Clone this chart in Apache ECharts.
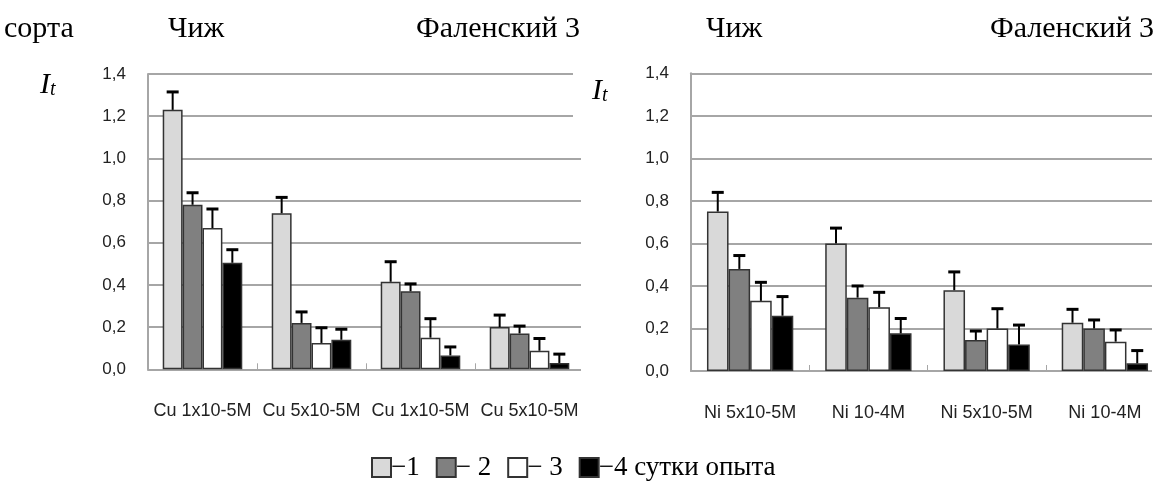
<!DOCTYPE html>
<html>
<head>
<meta charset="utf-8">
<style>html,body{margin:0;padding:0;background:#fff;}#c{width:1164px;height:487px;}</style>
<script src="https://cdn.jsdelivr.net/npm/echarts@6/dist/echarts.min.js"></script>
</head>
<body>
<div id="c"></div>
<script>
// ---- data ----
const leftCategories = ['Cu 1x10-5M', 'Cu 5x10-5M', 'Cu 1x10-5M', 'Cu 5x10-5M'];
const rightCategories = ['Ni 5x10-5M', 'Ni 10-4M', 'Ni 5x10-5M', 'Ni 10-4M'];
const seriesNames = ['\u22121', '\u2212 2', '\u2212 3', '\u22124 сутки опыта'];
const yTicks = [0, 0.2, 0.4, 0.6, 0.8, 1.0, 1.2, 1.4];

// left chart values (day 1..4) and errors
const leftDay1 = [1.23, 0.74, 0.415, 0.20];
const leftDay2 = [0.78, 0.22, 0.37, 0.17];
const leftDay3 = [0.67, 0.125, 0.15, 0.088];
const leftDay4 = [0.505, 0.14, 0.066, 0.03];
const leftErr1 = [0.085, 0.075, 0.095, 0.057];
const leftErr2 = [0.057, 0.052, 0.035, 0.035];
const leftErr3 = [0.09, 0.072, 0.09, 0.058];
const leftErr4 = [0.062, 0.05, 0.04, 0.042];

// right chart values and errors
const rightDay1 = [0.75, 0.60, 0.38, 0.227];
const rightDay2 = [0.48, 0.345, 0.146, 0.20];
const rightDay3 = [0.33, 0.30, 0.20, 0.138];
const rightDay4 = [0.26, 0.177, 0.125, 0.036];
const rightErr1 = [0.09, 0.072, 0.086, 0.063];
const rightErr2 = [0.063, 0.055, 0.042, 0.04];
const rightErr3 = [0.087, 0.07, 0.093, 0.055];
const rightErr4 = [0.09, 0.07, 0.091, 0.06];

const titles = [
  {text: 'сорта', x: 4},
  {text: 'Чиж', x: 168},
  {text: 'Фаленский 3', x: 416},
  {text: 'Чиж', x: 706},
  {text: 'Фаленский 3', x: 990}
];

// ---- styles ----
const fills = ['#d9d9d9', '#808080', '#ffffff', '#000000'];
const GAP = 0.27;
const gridColor = '#a6a6a6';

const leftVals = [leftDay1, leftDay2, leftDay3, leftDay4];
const leftErrs = [leftErr1, leftErr2, leftErr3, leftErr4];
const rightVals = [rightDay1, rightDay2, rightDay3, rightDay4];
const rightErrs = [rightErr1, rightErr2, rightErr3, rightErr4];

function xAxis(gridIndex, cats) {
  return {
    type: 'category', gridIndex: gridIndex, data: cats,
    axisLine: {lineStyle: {color: gridColor, width: 2}},
    axisTick: {show: true, inside: true, length: 6, lineStyle: {color: gridColor, width: 1}},
    axisLabel: {interval: 0, color: '#222', fontFamily: '"Liberation Sans", Arial, sans-serif', fontSize: 18, margin: 33}
  };
}
function yAxis(gridIndex) {
  return {
    type: 'value', gridIndex: gridIndex, min: 0, max: 1.4, interval: 0.2,
    axisLine: {show: true, lineStyle: {color: gridColor, width: 2}},
    axisTick: {show: false},
    splitLine: {show: true, lineStyle: {color: gridColor, width: 2}},
    axisLabel: {
      color: '#222', fontFamily: '"Liberation Sans", Arial, sans-serif', fontSize: 17, margin: 22,
      formatter: function (v) { return v.toFixed(1).replace('.', ','); }
    }
  };
}

const series = [];
function addChart(gi, vals, errs) {
  for (let k = 0; k < 4; k++) {
    series.push({
      name: seriesNames[k], type: 'bar', xAxisIndex: gi, yAxisIndex: gi,
      data: vals[k], barGap: '0%', barCategoryGap: (GAP * 100) + '%',
      itemStyle: {color: fills[k], borderColor: '#333', borderWidth: 1.5},
      emphasis: {disabled: true}, animation: false
    });
  }
  for (let k = 0; k < 4; k++) {
    const d = vals[k].map(function (v, i) { return [i, v, errs[k][i]]; });
    series.push({
      name: 'err', type: 'custom', xAxisIndex: gi, yAxisIndex: gi, data: d, z: 5,
      animation: false, silent: true,
      renderItem: (function (kk) {
        return function (params, api) {
          const c = api.value(0), v = api.value(1), e = api.value(2);
          const base = api.coord([c, v]);
          const top = api.coord([c, v + e]);
          const band = api.size([1, 0])[0];
          const bw = band * (1 - GAP) / 4;
          const x = base[0] + (kk - 1.5) * bw;
          return {type: 'group', children: [
            {type: 'line', shape: {x1: x, y1: base[1], x2: x, y2: top[1]}, style: {stroke: '#000', lineWidth: 2}},
            {type: 'line', shape: {x1: x - 6, y1: top[1], x2: x + 6, y2: top[1]}, style: {stroke: '#000', lineWidth: 3}}
          ]};
        };
      })(k)
    });
  }
}
addChart(0, leftVals, leftErrs);
addChart(1, rightVals, rightErrs);

const graphics = [];
// masks that mimic the cropped gridlines of the original
graphics.push({type: 'rect', shape: {x: 581, y: 60, width: 9, height: 312}, style: {fill: '#fff'}, z: 100});
graphics.push({type: 'rect', shape: {x: 573, y: 60, width: 17, height: 60}, style: {fill: '#fff'}, z: 100});
graphics.push({type: 'rect', shape: {x: 1152, y: 60, width: 20, height: 313}, style: {fill: '#fff'}, z: 100});
titles.forEach(function (t) {
  graphics.push({type: 'text', x: t.x, y: 14, z: 110,
    style: {text: t.text, font: '30px "Liberation Serif", "Times New Roman", serif', fill: '#000'}});
});
[[40, 100], [592, 106]].forEach(function (p) {
  graphics.push({type: 'text', x: p[0], y: p[1], z: 110,
    style: {
      text: '{i|I}{s|t}', textVerticalAlign: 'bottom',
      rich: {
        i: {font: 'italic 30px "Liberation Serif", serif', fill: '#000'},
        s: {font: 'italic 20px "Liberation Serif", serif', fill: '#000', verticalAlign: 'bottom'}
      }
    }});
});

const chart = echarts.init(document.getElementById('c'));
chart.setOption({
  animation: false,
  backgroundColor: '#fff',
  grid: [
    {left: 148, top: 74, width: 436, height: 295.3},
    {left: 691, top: 73.3, width: 480, height: 297.7}
  ],
  xAxis: [xAxis(0, leftCategories), xAxis(1, rightCategories)],
  yAxis: [yAxis(0), yAxis(1)],
  legend: {
    data: seriesNames, left: 366, top: 449, icon: 'rect', itemWidth: 19, itemHeight: 19, itemGap: 16,
    selectedMode: false,
    textStyle: {fontFamily: '"Liberation Serif", "Times New Roman", serif', fontSize: 27, color: '#000', padding: [0, 0, 0, -5]}
  },
  series: series,
  graphic: graphics
});
</script>
</body>
</html>
